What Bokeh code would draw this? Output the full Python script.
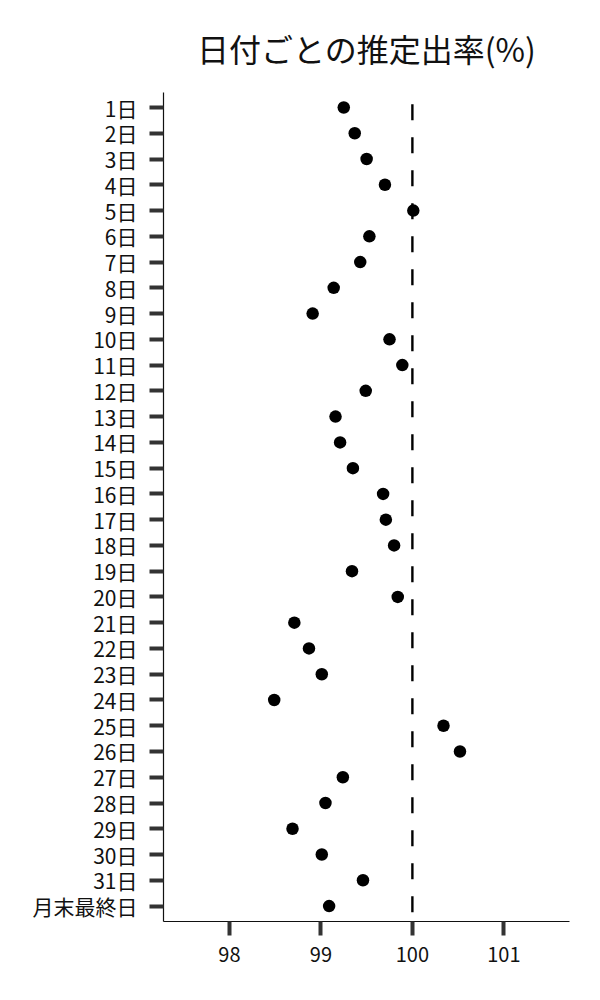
from bokeh.plotting import figure
from bokeh.models import Range1d, FixedTicker, ColumnDataSource, Title
from bokeh.embed import file_html
from bokeh.resources import INLINE

TITLE = "日付ごとの推定出率(%)"
CATS = [f"{d}日" for d in range(1, 32)] + ["月末最終日"]
VALUES = [99.25, 99.37, 99.50, 99.70, 100.01, 99.53, 99.43, 99.14, 98.91, 99.75,
          99.89, 99.49, 99.16, 99.21, 99.35, 99.68, 99.71, 99.80, 99.34, 99.84,
          98.71, 98.87, 99.01, 98.49, 100.34, 100.52, 99.24, 99.05, 98.69, 99.01,
          99.46, 99.09]
X_TICKS = [98, 99, 100, 101]
REF = 100

FONT = "Noto Sans CJK JP"

pos = list(range(len(CATS)))
src = ColumnDataSource(data=dict(x=VALUES, y=pos, label=CATS))

p = figure(width=592, height=980, output_backend="svg", toolbar_location=None,
           x_range=Range1d(97.28, 101.717),
           y_range=Range1d(len(CATS) - 1 + 0.6, -0.583),
           min_border_left=163, min_border_right=23, min_border_top=92,
           min_border_bottom=59)
p.title = None
p.add_layout(Title(text=TITLE, align="center", text_font=FONT, text_font_size="32px",
                   text_font_style="normal", text_color="#111111", standoff=43), "above")

p.grid.visible = False
p.outline_line_color = None
p.background_fill_color = "white"
p.border_fill_color = "white"

# reference line
p.segment(x0=[REF], x1=[REF], y0=[-0.13], y1=[len(CATS) - 1 + 0.6],
          line_color="black", line_width=2.4, line_dash="16 17")

p.scatter("x", "y", source=src, size=12.5, color="black", line_color=None)

ya = p.yaxis[0]
ya.ticker = FixedTicker(ticks=pos)
ya.major_label_overrides = {i: c for i, c in zip(pos, CATS)}
ya.minor_tick_line_color = None
ya.major_tick_in = 0
ya.major_tick_out = 14
ya.major_tick_line_width = 4
ya.major_tick_line_color = "#333333"
ya.axis_line_color = "#111111"
ya.axis_line_width = 1.2
ya.major_label_text_font = FONT
ya.major_label_text_font_size = "21px"
ya.major_label_text_color = "#111111"
ya.major_label_standoff = 12

xa = p.xaxis[0]
xa.ticker = FixedTicker(ticks=X_TICKS)
xa.minor_tick_line_color = None
xa.major_tick_in = 0
xa.major_tick_out = 14
xa.major_tick_line_width = 4
xa.major_tick_line_color = "#333333"
xa.axis_line_color = "#111111"
xa.axis_line_width = 1.2
xa.major_label_text_font = FONT
xa.major_label_text_font_size = "20px"
xa.major_label_text_color = "#111111"
xa.major_label_standoff = 11

open("out.html", "w").write(file_html(p, INLINE))
